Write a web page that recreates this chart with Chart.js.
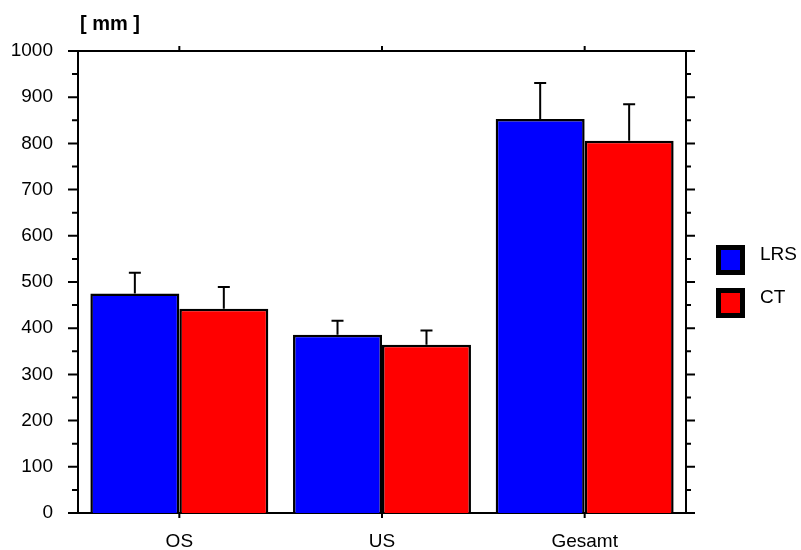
<!DOCTYPE html>
<html>
<head>
<meta charset="utf-8">
<script src="https://cdn.jsdelivr.net/npm/chart.js@4/dist/chart.umd.min.js"></script>
<style>
  body { margin: 0; background: #fff; }
  #wrap { width: 801px; height: 550px; position: relative; }
</style>
</head>
<body>
<div id="wrap"><canvas id="bar_chart"></canvas></div>
<script>
// data
const categories = ["OS", "US", "Gesamt"];
const seriesNames = ["LRS", "CT"];
const lrsValues = [475, 386, 853];
const lrsErrors = [45, 30, 78];
const ctValues = [442, 364, 806];
const ctErrors = [47, 31, 79];
const yTicks = [0, 100, 200, 300, 400, 500, 600, 700, 800, 900, 1000];
const yUnit = "[ mm ]";

const font = "Arial, 'Liberation Sans', sans-serif";

// error bars, frame, minor ticks, unit label and legend
const extras = {
    id: "extras",
    afterDatasetsDraw(chart) {
        let ctx = chart.ctx;
        let y = chart.scales.y;
        ctx.save();
        ctx.strokeStyle = "#000";
        ctx.lineWidth = 2;
        chart.data.datasets.forEach(function(ds, di){
            let meta = chart.getDatasetMeta(di);
            meta.data.forEach(function(bar, i){
                let top = y.getPixelForValue(ds.data[i] + ds.errors[i]);
                ctx.beginPath();
                ctx.moveTo(bar.x, bar.y);
                ctx.lineTo(bar.x, top);
                ctx.moveTo(bar.x - 6, top);
                ctx.lineTo(bar.x + 6, top);
                ctx.stroke();
            });
        });
        ctx.restore();
    },
    afterDraw(chart) {
        let ctx = chart.ctx;
        let a = chart.chartArea;
        let x = chart.scales.x;
        let y = chart.scales.y;
        ctx.save();
        ctx.strokeStyle = "#000";
        ctx.lineWidth = 2;
        ctx.lineCap = "square";
        // top and right axis lines
        ctx.beginPath();
        ctx.moveTo(a.left, a.top);
        ctx.lineTo(a.right, a.top);
        ctx.lineTo(a.right, a.bottom);
        ctx.stroke();
        ctx.lineCap = "butt";
        // y ticks, major and minor, both sides
        ctx.beginPath();
        for (let v = 0; v <= 1000; v += 50) {
            let py = y.getPixelForValue(v);
            let major = v % 100 === 0;
            ctx.moveTo(a.left - (major ? 10 : 6), py);
            ctx.lineTo(a.left, py);
            ctx.moveTo(a.right, py);
            ctx.lineTo(a.right + (major ? 9 : 5), py);
        }
        // category ticks on bottom and top
        categories.forEach(function(c, i){
            let px = x.getPixelForValue(i);
            ctx.moveTo(px, a.bottom);
            ctx.lineTo(px, a.bottom + 5);
            ctx.moveTo(px, a.top);
            ctx.lineTo(px, a.top - 5);
        });
        ctx.stroke();

        // unit label
        ctx.fillStyle = "#000";
        ctx.font = "bold 20px " + font;
        ctx.textAlign = "left";
        ctx.textBaseline = "middle";
        ctx.fillText(yUnit, 80, 24);

        // legend
        ctx.font = "19px " + font;
        chart.data.datasets.forEach(function(ds, di){
            let bx = 716, by = 245 + di * 43;
            ctx.fillStyle = "#000";
            ctx.fillRect(bx, by, 29, 30);
            ctx.fillStyle = ds.backgroundColor;
            ctx.fillRect(bx + 5, by + 5, 19, 20);
            ctx.fillStyle = "#000";
            ctx.fillText(ds.label, 760, by + 10);
        });
        ctx.restore();
    }
};

new Chart(document.getElementById("bar_chart"), {
    type: "bar",
    data: {
        labels: categories,
        datasets: [
            {
                label: seriesNames[0],
                data: lrsValues,
                errors: lrsErrors,
                backgroundColor: "#0000ff",
                borderColor: "#000",
                borderWidth: 2.5
            },
            {
                label: seriesNames[1],
                data: ctValues,
                errors: ctErrors,
                backgroundColor: "#ff0000",
                borderColor: "#000",
                borderWidth: 2.5
            }
        ]
    },
    options: {
        responsive: true,
        maintainAspectRatio: false,
        animation: false,
        datasets: {
            bar: { categoryPercentage: 0.878, barPercentage: 1 }
        },
        layout: { padding: { top: 51, right: 115, left: 0, bottom: 0 } },
        plugins: {
            legend: { display: false },
            tooltip: { enabled: false }
        },
        scales: {
            x: {
                grid: { display: false, drawTicks: false },
                border: { display: true, color: "#000", width: 2 },
                ticks: { color: "#000", font: { family: font, size: 19 }, padding: 17 },
                afterFit: function(s){ s.height = 37; }
            },
            y: {
                min: 0,
                max: 1000,
                afterBuildTicks: function(s){ s.ticks = yTicks.map(function(v){ return { value: v }; }); },
                grid: { display: false, drawTicks: false },
                border: { display: true, color: "#000", width: 2 },
                ticks: {
                    color: "#000",
                    font: { family: font, size: 19 },
                    padding: 25,
                    callback: function(v){ return String(v); }
                },
                afterFit: function(s){ s.width = 78; }
            }
        }
    },
    plugins: [extras]
});
</script>
</body>
</html>
